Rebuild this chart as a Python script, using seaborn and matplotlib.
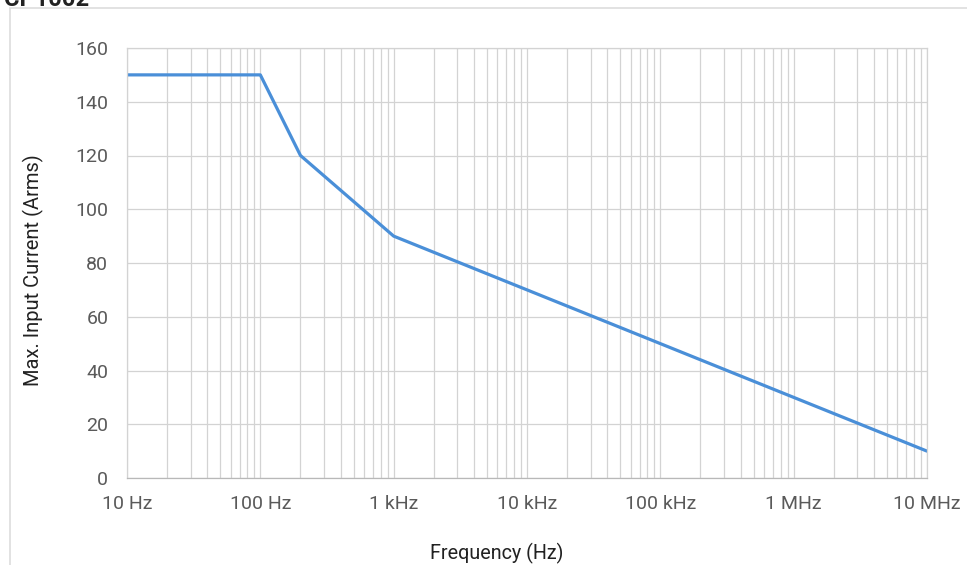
import seaborn as sns
import pandas as pd
import matplotlib.pyplot as plt
from matplotlib.patches import Rectangle
from matplotlib.ticker import LogLocator, FixedLocator

freq_hz = [10, 100, 200, 1000, 10e6]
current_arms = [150, 150, 120, 90, 10]
x_ticks = [10, 100, 1e3, 1e4, 1e5, 1e6, 1e7]
x_labels = ["10 Hz", "100 Hz", "1 kHz", "10 kHz", "100 kHz", "1 MHz", "10 MHz"]
y_ticks = [0, 20, 40, 60, 80, 100, 120, 140, 160]

sns.set_style("whitegrid")
plt.rcParams['font.family'] = ['Roboto', 'DejaVu Sans']

df = pd.DataFrame({"freq": freq_hz, "current": current_arms})

fig = plt.figure(figsize=(9.67, 5.65), dpi=100)
ax = fig.add_axes([127/967, 1 - 478/565, 800/967, 430/565])

sns.lineplot(data=df, x="freq", y="current", ax=ax, color="#4A8FD8", linewidth=2.3)
ax.set_xscale("log")
ax.set_xlim(10, 1e7)
ax.set_ylim(0, 160)
ax.xaxis.set_major_locator(FixedLocator(x_ticks))
ax.xaxis.set_minor_locator(LogLocator(base=10, subs=range(2, 10)))
ax.set_xticks(x_ticks)
ax.set_xticklabels(x_labels)
ax.set_yticks(y_ticks)
ax.tick_params(which="both", length=0, labelsize=14, labelcolor="#5a5a5a")
ax.tick_params(axis="x", pad=12.5)
ax.tick_params(axis="y", pad=13.5)
ax.grid(which="major", color="#d3d3d3", linewidth=0.9)
ax.grid(which="minor", axis="x", color="#d3d3d3", linewidth=0.9)
for s in ax.spines.values():
    s.set_color("#d3d3d3")
    s.set_linewidth(0.9)
ax.spines["bottom"].set_color("#b8b8b8")
ax.set_xlabel("")
ax.set_ylabel("")

fig.text(497/967, 1 - 553/565, "Frequency (Hz)", ha="center", va="center", fontsize=14.2, color="#222222")
fig.text(33/967, 1 - 270/565, "Max. Input Current (Arms)", ha="center", va="center", rotation=90, fontsize=14.5, color="#222222")
fig.text(4/967, 1.0, "CP1002", ha="left", va="center", fontsize=17, fontweight="bold", color="#222222")

fig.patches.append(Rectangle((10/967, -0.1), 1.2, 1 - 8/565 + 0.1, transform=fig.transFigure,
                             fill=False, edgecolor="#dddddd", linewidth=1.2))

fig.savefig("out.png", dpi=100)
